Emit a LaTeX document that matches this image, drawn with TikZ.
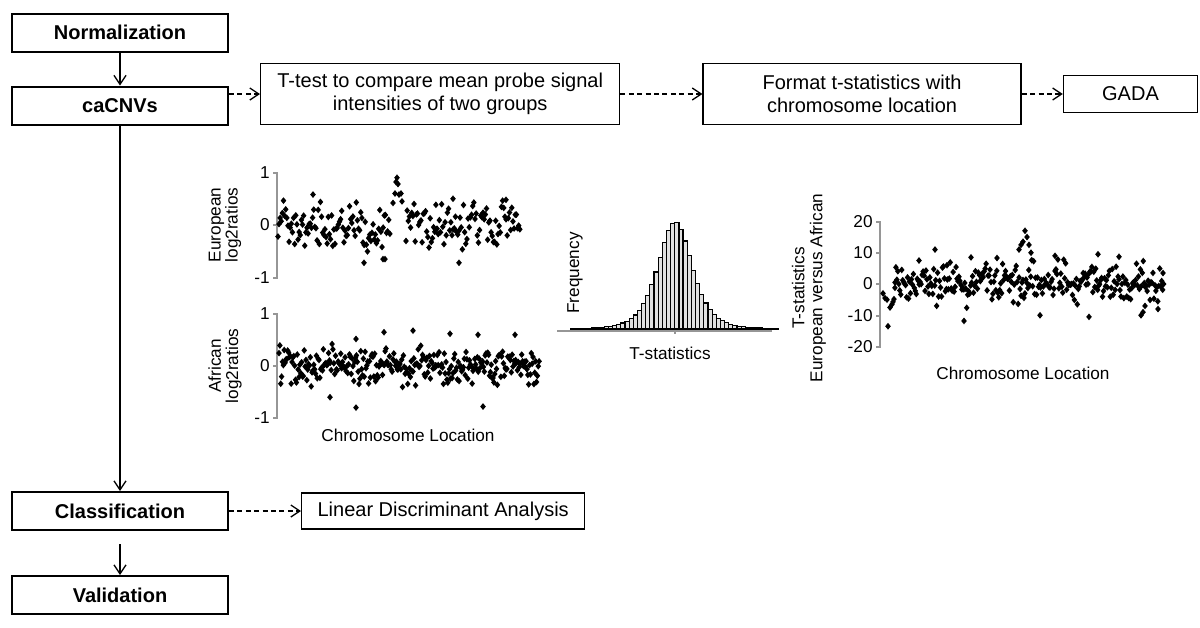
\documentclass[tikz,border=0pt]{standalone}
\usepackage{fontspec}
\setmainfont{Liberation Sans}
\usetikzlibrary{arrows.meta,positioning}
\definecolor{axisgray}{RGB}{150,150,150}

\newcommand{\dotmark}[2]{\fill[black] (#1,#2) +(0,-3.4) -- +(2.8,0) -- +(0,3.4) -- +(-2.8,0) -- cycle;}

\tikzset{
  mainstep/.style={draw, line width=1pt, minimum width=108pt, minimum height=19pt, inner sep=0pt, font=\fontsize{10}{12}\selectfont\bfseries},
  sidebox/.style={draw, line width=0.7pt, inner sep=0pt, align=center, font=\fontsize{10}{11.5}\selectfont},
  flow/.style={-{Straight Barb[length=4.5pt,width=6pt]}, line width=0.65pt},
  dflow/.style={flow, dash pattern=on 2.5pt off 1.7pt},
  axisline/.style={axisgray, line width=0.6pt},
  plottext/.style={font=\fontsize{8.6}{8.6}\selectfont, inner sep=0pt},
}

\begin{document}
\begin{tikzpicture}[x=0.5pt, y=-0.5pt]
  \useasboundingbox (0,0) rectangle (1200,627);

  % main flow
  \node[mainstep] (norm) at (120,32.5) {Normalization};
  \node[mainstep, below=16.5pt of norm] (cacnv) {caCNVs};
  \node[sidebox, minimum width=179.5pt, minimum height=30.5pt, right=15.5pt of cacnv, yshift=5.75pt] (ttest) {T-test to compare mean probe signal\\intensities of two groups};
  \node[sidebox, minimum width=159pt, minimum height=30.5pt, right=41pt of ttest] (fmt) {Format t-statistics with\\chromosome location};
  \node[sidebox, minimum width=67pt, minimum height=18.5pt, right=20.5pt of fmt] (gada) {GADA};
  \node[mainstep] (cls) at (120,511) {Classification};
  \node[mainstep, below=22pt of cls] (val) {Validation};
  \node[sidebox, minimum width=141.5pt, minimum height=18pt, right=36pt of cls] (lda) {Linear Discriminant Analysis};

  \draw[flow] (norm) -- (cacnv);
  \draw[flow] (cacnv) -- (cls);
  \draw[flow, shorten <=6.5pt] (cls) -- (val);
  \draw[dflow] (cacnv.east |- ttest.west) -- (ttest.west);
  \draw[dflow] (ttest) -- (fmt);
  \draw[dflow] (fmt) -- (gada);
  \draw[dflow] (cls) -- (lda);

  \pgfmathsetseed{42}

  % European log2ratios
  \draw[axisline] (273,173) -- (277,173) -- (277,278) -- (273,278) (273,225) -- (277,225);
  \node[plottext, anchor=east] (eutop) at (270,173) {1};
  \node[plottext, anchor=east] (eumid) at (270,225) {0};
  \node[plottext, anchor=east] (eubot) at (270,278) {-1};
  \node[plottext, rotate=90, align=center] (eulab) at (225,225) {European\\log2ratios};
  \foreach \i in {0,...,99}{
    \pgfmathsetmacro\cx{279+\i*1.12}
    \pgfmathsetmacro\cy{225-52.5*(0.24*(rand+rand)+0.1*cos(\i*11))}
    \dotmark{\cx}{\cy}
  }
  \foreach \cx/\v in {393/0.42,395/0.6,396/0.82,397/0.9,398/0.78,399/0.58,401/0.6,402/0.45}{
    \dotmark{\cx}{225-52.5*\v}
  }
  \foreach \i in {0,...,99}{
    \pgfmathsetmacro\cx{406+\i*1.15}
    \pgfmathsetmacro\cy{225-52.5*(0.24*(rand+rand)+0.06*sin(\i*13))}
    \dotmark{\cx}{\cy}
  }
  \foreach \cx/\v in {278/-0.22,364/-0.72,383/-0.65,385/-0.65,459/-0.72,313/0.58,453/0.5,506/0.48}{
    \dotmark{\cx}{225-52.5*\v}
  }

  % African log2ratios
  \draw[axisline] (273,314) -- (277,314) -- (277,418) -- (273,418) (273,366) -- (277,366);
  \node[plottext, anchor=east] (aftop) at (270,314) {1};
  \node[plottext, anchor=east] (afmid) at (270,366) {0};
  \node[plottext, anchor=east] (afbot) at (270,418) {-1};
  \node[plottext, rotate=90, align=center] (aflab) at (225,366) {African\\log2ratios};
  \foreach \i in {0,...,299}{
    \pgfmathsetmacro\cx{279+\i*0.87}
    \pgfmathsetmacro\cy{366-52*(0.21*(rand+rand)+0.05*sin(\i*7))}
    \dotmark{\cx}{\cy}
  }
  \foreach \cx/\v in {356/-0.8,483/-0.78,330/-0.6,384/0.65,413/0.68,450/0.62,478/0.6,515/0.6,356/0.52}{
    \dotmark{\cx}{366-52*\v}
  }
  \node[plottext] (aflocation) at (408,435) {Chromosome Location};

  % T-statistics histogram
  \foreach \k in {0,...,49}{
    \pgfmathsetmacro\bx{571+\k*4.15}
    \pgfmathsetmacro\bh{107*exp(-2.5*ln(1+((\bx+2.07-675)/17.7)^2/4))}
    \draw[line width=0.6pt, fill=black!12] (\bx,329) rectangle ++(4.15,-\bh);
  }
  \draw[axisline] (557,331) -- (772,331) (675,331) -- (675,334);
  \node[plottext, rotate=90] (freq) at (575,273) {Frequency};
  \node[plottext] (tstat) at (670,353) {T-statistics};

  % T-statistics versus chromosome location
  \draw[axisline] (876,222) -- (880,222) -- (880,347) -- (876,347) (876,253) -- (880,253) (876,284) -- (880,284) (876,316) -- (880,316);
  \node[plottext, anchor=east] (tsa) at (873,222) {20};
  \node[plottext, anchor=east] (tsb) at (873,253) {10};
  \node[plottext, anchor=east] (tsc) at (873,284) {0};
  \node[plottext, anchor=east] (tsd) at (873,316) {-10};
  \node[plottext, anchor=east] (tse) at (873,347) {-20};
  \node[plottext, rotate=90, align=center, font=\fontsize{8.6}{9}\selectfont] (tslab) at (809,288) {T-statistics\\European versus African};
  \foreach \i in {0,...,279}{
    \pgfmathsetmacro\cx{893+\i*0.97}
    \pgfmathsetmacro\cy{284-3.13*(3.6*(rand+rand)+1.3*sin(\i*13))}
    \dotmark{\cx}{\cy}
  }
  \foreach \cx/\v in {883/-3,885/-4.5,887/-5,888/-13.5,890/-7.5,892/-6.5,895/0.5,919/7.5,935/11,964/-11.8,947/6,971/8.5,997/8.3,1019/11,1021/12.5,1023/13.5,1025/17,1027/15,1029/12.5,1031/10,1040/-10,1055/9,1089/-10.5,1098/9.5,1119/8.7,1141/-10,1143/-9,1145/-7,1158/-8,1163/3.5}{
    \dotmark{\cx}{284-3.13*\v}
  }
  \node[plottext] (tslocation) at (1023,373) {Chromosome Location};
\end{tikzpicture}
\end{document}
